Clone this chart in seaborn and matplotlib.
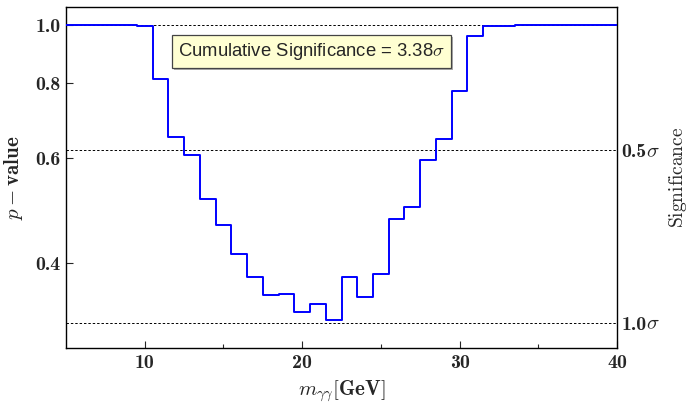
import numpy as np
import pandas as pd
import seaborn as sns
import matplotlib
matplotlib.use("Agg")
import matplotlib.pyplot as plt
from matplotlib.ticker import FixedLocator, NullLocator, FixedFormatter
import matplotlib.patheffects as pe

# Diphoton invariant mass bin centres (GeV) and local p-values
mass = list(range(5, 41))
p_value = [1.0, 1.0, 1.0, 1.0, 1.0,
           0.996, 0.811, 0.649, 0.607, 0.511,
           0.462, 0.413, 0.379, 0.353, 0.354,
           0.331, 0.341, 0.321, 0.379, 0.350,
           0.383, 0.473, 0.496, 0.595, 0.644,
           0.777, 0.957, 0.996, 0.996,
           1.0, 1.0, 1.0, 1.0, 1.0, 1.0, 1.0]

y_ticks = [0.4, 0.6, 0.8, 1.0]
y_tick_labels = ["0.4", "0.6", "0.8", "1.0"]
x_ticks = [10, 20, 30, 40]
x_tick_labels = ["10", "20", "30", "40"]

# Two-sided p-values for the reference significances
sig_levels = [0.6171, 0.3173]
sig_labels = ["0.5", "1.0"]
cumulative_sig = "3.38"

df = pd.DataFrame({"mass": mass, "p": p_value})

sns.set_style("ticks")
plt.rcParams["mathtext.fontset"] = "cm"
plt.rcParams["font.family"] = ["DejaVu Serif"]

BOLD = "cmb10"
TICK_SIZE = 14.3

fig = plt.figure(figsize=(6.89, 4.05), dpi=100)
ax = fig.add_axes([66 / 689, 1 - 348 / 405, (617 - 66) / 689, (348 - 7) / 405])

sns.lineplot(data=df, x="mass", y="p", ax=ax, color="#0000ff",
             linewidth=1.4, drawstyle="steps-mid", zorder=3)

ax.set_yscale("log")
ax.set_xlim(5, 40)
ax.set_ylim(0.288, 1.072)

for lvl in [1.0] + sig_levels:
    ax.axhline(lvl, color="black", linewidth=0.7, linestyle=(0, (2.5, 2.0)), zorder=1)

ax.yaxis.set_major_locator(FixedLocator(y_ticks))
ax.yaxis.set_minor_locator(NullLocator())
ax.yaxis.set_major_formatter(FixedFormatter(y_tick_labels))
ax.xaxis.set_major_locator(FixedLocator(x_ticks))
ax.xaxis.set_minor_locator(FixedLocator([15, 25, 35]))
ax.xaxis.set_major_formatter(FixedFormatter(x_tick_labels))
ax.tick_params(axis="both", which="major", direction="in", length=5, width=0.8,
               labelsize=TICK_SIZE, pad=4)
ax.tick_params(axis="x", which="minor", direction="in", length=3, width=0.8)
for lab in ax.get_xticklabels() + ax.get_yticklabels():
    lab.set_fontfamily(BOLD)

for s in ax.spines.values():
    s.set_linewidth(1.0)
    s.set_color("black")

ax.set_xlabel(r"$m_{\gamma\gamma}[\mathbf{GeV}]$", fontsize=15, labelpad=5)
ax.set_ylabel(r"$p-\mathbf{value}$", fontsize=15, labelpad=7)

# Significance labels on the right-hand spine
ytrans = ax.get_yaxis_transform()
for lvl, lab in zip(sig_levels, sig_labels):
    num = ax.annotate(lab, xy=(1, lvl), xycoords=ytrans, xytext=(3, -4.8),
                      textcoords="offset points", ha="left", va="baseline",
                      family=BOLD, fontsize=TICK_SIZE, annotation_clip=False)
    ax.annotate(r"$\sigma$", xy=(1, lvl), xycoords=(num, ytrans), xytext=(0, -4.8),
                textcoords="offset points", ha="left", va="baseline",
                fontsize=TICK_SIZE + 0.5, annotation_clip=False)

fig.text(678 / 689, 1 - 177.5 / 405, r"$\mathrm{Significance}$", rotation=90,
         ha="center", va="center", fontsize=14)

t = ax.text(20.6, 0.903, r"Cumulative Significance = %s$\sigma$" % cumulative_sig,
            fontsize=13.3, family="Liberation Sans", ha="center", va="center",
            bbox=dict(boxstyle="square,pad=0.33", facecolor="#ffffd2",
                      edgecolor="#444444", linewidth=0.9), zorder=5)
t.get_bbox_patch().set_path_effects([pe.withSimplePatchShadow(offset=(1.2, -1.2),
                                                               shadow_rgbFace="#999999",
                                                               alpha=0.8)])

fig.savefig("out.png", dpi=100)
